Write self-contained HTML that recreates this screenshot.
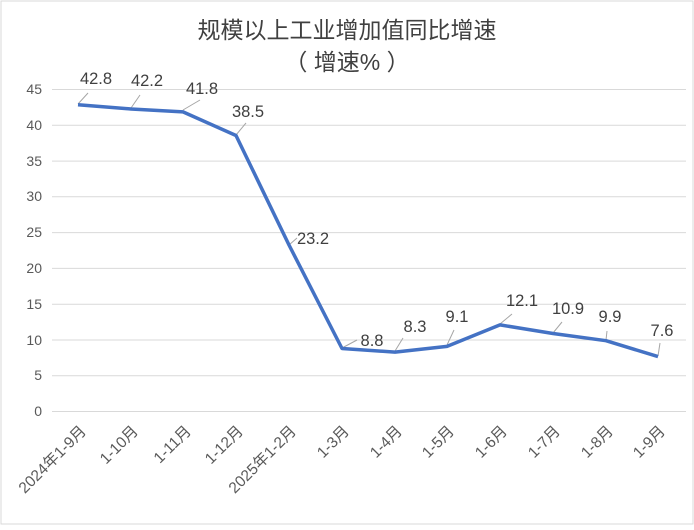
<!DOCTYPE html>
<html><head><meta charset="utf-8"><style>body{margin:0;background:#fff}</style></head><body>
<svg width="694" height="525" xmlns="http://www.w3.org/2000/svg" font-family="'Liberation Sans','Noto Sans CJK SC',sans-serif">
<rect x="1" y="1" width="692" height="523" fill="#fff" stroke="#d9d9d9"/>
<text x="347" y="38" text-anchor="middle" font-size="23" fill="#404040">规模以上工业增加值同比增速</text>
<text x="347" y="70" text-anchor="middle" font-size="23" fill="#404040">（ 增速% ）</text>
<g stroke="#d9d9d9" stroke-width="1">
<line x1="52" x2="686" y1="89.5" y2="89.5"/><line x1="52" x2="686" y1="125.3" y2="125.3"/>
<line x1="52" x2="686" y1="161.1" y2="161.1"/><line x1="52" x2="686" y1="196.8" y2="196.8"/>
<line x1="52" x2="686" y1="232.6" y2="232.6"/><line x1="52" x2="686" y1="268.4" y2="268.4"/>
<line x1="52" x2="686" y1="304.2" y2="304.2"/><line x1="52" x2="686" y1="340" y2="340"/>
<line x1="52" x2="686" y1="375.7" y2="375.7"/><line x1="52" x2="686" y1="411.5" y2="411.5"/>
</g>
<g font-size="14" fill="#595959" text-anchor="end">
<text x="42" y="94">45</text><text x="42" y="130">40</text><text x="42" y="166">35</text>
<text x="42" y="201">30</text><text x="42" y="237">25</text><text x="42" y="273">20</text>
<text x="42" y="309">15</text><text x="42" y="345">10</text><text x="42" y="380">5</text>
<text x="42" y="416">0</text>
</g>
<g stroke="#a6a6a6" stroke-width="1">
<line x1="78" y1="104" x2="88" y2="93"/><line x1="131" y1="108" x2="140" y2="95"/>
<line x1="183" y1="110" x2="200" y2="100"/><line x1="236" y1="135" x2="246" y2="123"/>
<line x1="289" y1="245" x2="297" y2="238"/><line x1="342" y1="348" x2="357" y2="340"/>
<line x1="395" y1="351" x2="403" y2="338"/><line x1="447" y1="345" x2="454" y2="330"/>
<line x1="500" y1="324" x2="512" y2="314"/><line x1="553" y1="333" x2="562" y2="322"/>
<line x1="606" y1="340" x2="607" y2="331"/><line x1="658" y1="356" x2="660" y2="343"/>
</g>
<polyline fill="none" stroke="#4472c4" stroke-width="3.5" stroke-linejoin="round" points="78,104.7 131,109 183,111.9 236,135.5 289,245 342,348.5 395,352.1 447,346.4 500,324.9 553,333.5 606,340.7 658,356.6"/>
<g font-size="16.5" fill="#404040" text-anchor="middle">
<text x="96" y="84">42.8</text><text x="147" y="86">42.2</text><text x="202" y="94">41.8</text>
<text x="248" y="117">38.5</text><text x="313" y="244">23.2</text><text x="372" y="346">8.8</text>
<text x="415" y="332">8.3</text><text x="457" y="322">9.1</text><text x="522" y="306">12.1</text>
<text x="568" y="314">10.9</text><text x="610" y="322">9.9</text><text x="662" y="336">7.6</text>
</g>
<g font-size="15.5" fill="#595959" text-anchor="end">
<text transform="translate(87,432) rotate(-45)">2024年1-9月</text>
<text transform="translate(139,432) rotate(-45)">1-10月</text>
<text transform="translate(192,432) rotate(-45)">1-11月</text>
<text transform="translate(244,432) rotate(-45)">1-12月</text>
<text transform="translate(297,432) rotate(-45)">2025年1-2月</text>
<text transform="translate(350,432) rotate(-45)">1-3月</text>
<text transform="translate(403,432) rotate(-45)">1-4月</text>
<text transform="translate(455,432) rotate(-45)">1-5月</text>
<text transform="translate(508,432) rotate(-45)">1-6月</text>
<text transform="translate(561,432) rotate(-45)">1-7月</text>
<text transform="translate(614,432) rotate(-45)">1-8月</text>
<text transform="translate(666,432) rotate(-45)">1-9月</text>
</g>
</svg>
</body></html>
